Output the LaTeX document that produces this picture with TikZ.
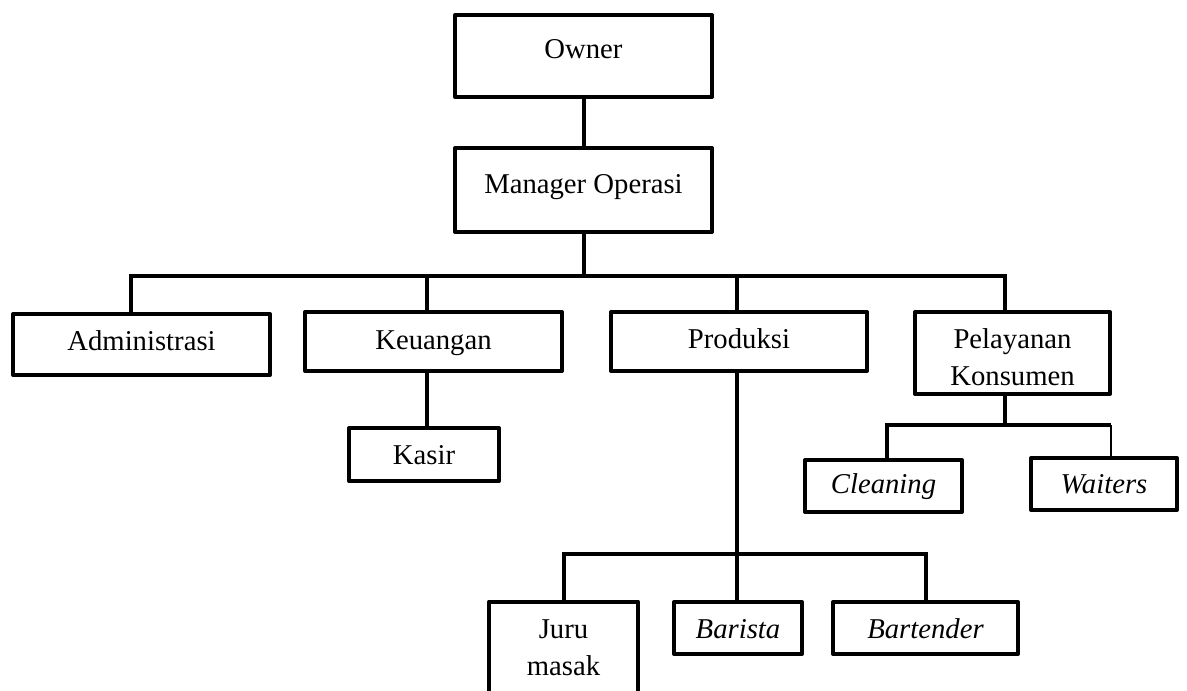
\documentclass[tikz,border=0pt]{standalone}
\usepackage{fontspec}
\setmainfont{Liberation Serif}
\begin{document}
\begin{tikzpicture}[x=1pt,y=-1pt]
\tikzset{
  box/.style={draw, rectangle, line width=4pt, inner sep=0pt, outer sep=0pt, line join=round},
  lbl/.style={anchor=base, inner sep=0pt, font=\fontsize{28.7}{36.5}\selectfont, align=center},
  conn/.style={line width=4pt},
  thinconn/.style={line width=1.3pt}
}
\fill[white] (0,0) rectangle (1187,691);
\useasboundingbox (0,0) rectangle (1187,691);
\clip (0,0) rectangle (1187,691);

% boxes
\node[box, minimum width=257pt, minimum height=82pt] (owner) at (583.5,56) {};
\node[box, minimum width=257pt, minimum height=84pt] (mgr) at (583.5,190) {};
\node[box, minimum width=257pt, minimum height=61pt] (admin) at (141.5,344.5) {};
\node[box, minimum width=257pt, minimum height=59pt] (keu) at (433.5,341.5) {};
\node[box, minimum width=150pt, minimum height=53pt] (kasir) at (424,454.5) {};
\node[box, minimum width=256pt, minimum height=59pt] (prod) at (739,341.5) {};
\node[box, minimum width=195pt, minimum height=82pt] (pel) at (1012.5,353) {};
\node[box, minimum width=157pt, minimum height=52pt] (clean) at (883.5,486) {};
\node[box, minimum width=146pt, minimum height=52pt] (wait) at (1104,484) {};
\node[box, minimum width=149pt, minimum height=137pt] (juru) at (563.5,670) {};
\node[box, minimum width=128pt, minimum height=52pt] (bari) at (738,628) {};
\node[box, minimum width=185pt, minimum height=52pt] (bart) at (925.5,628) {};

% labels
\node[lbl] (tOwner) at (583.5,58) {Owner};
\node[lbl] (tMgr) at (583.5,193) {Manager Operasi};
\node[lbl] (tAdmin) at (141.5,350) {Administrasi};
\node[lbl] (tKeu) at (433.5,349) {Keuangan};
\node[lbl] (tKasir) at (424,464) {Kasir};
\node[lbl] (tProd) at (739,348) {Produksi};
\node[lbl] (tPel) at (1012.5,385) {Pelayanan\\Konsumen};
\node[lbl] (tClean) at (883.5,493) {\itshape Cleaning};
\node[lbl] (tWait) at (1104,493) {\itshape Waiters};
\node[lbl] (tJuru) at (563.5,675) {Juru\\masak};
\node[lbl] (tBari) at (738,638) {\itshape Barista};
\node[lbl] (tBart) at (925.5,638) {\itshape Bartender};

% connectors
\draw[conn] (owner.south) -- (mgr.north);
\coordinate (mb) at (583.5,276);
\draw[conn] (mgr.south) -- (mb);
\coordinate (barL) at (131,276);
\coordinate (barR) at (1005,276);
\draw[conn] (barL |- admin.north) -- (barL) -- (barR) -- (barR |- pel.north);
\coordinate (kx) at (427,276);
\draw[conn] (kx) -- (kx |- keu.north);
\coordinate (px) at (737,276);
\draw[conn] (px) -- (px |- prod.north);
\draw[conn] (keu.south -| kx) -- (kx |- kasir.north);
\draw[conn] (prod.south -| px) -- (px |- bari.north);
\coordinate (pbL) at (563.5,554);
\coordinate (pbR) at (925.5,554);
\draw[conn] (pbL |- juru.north) -- (pbL) -- (pbR) -- (pbR |- bart.north);
\coordinate (sb) at (1005,425);
\draw[conn] (pel.south -| sb) -- (sb);
\coordinate (sbL) at (887,425);
\coordinate (sbR) at (1111,425);
\draw[conn] (sbL |- clean.north) -- (sbL) -- (sbR);
\draw[thinconn] (sbR) -- (sbR |- wait.north);
\end{tikzpicture}
\end{document}
